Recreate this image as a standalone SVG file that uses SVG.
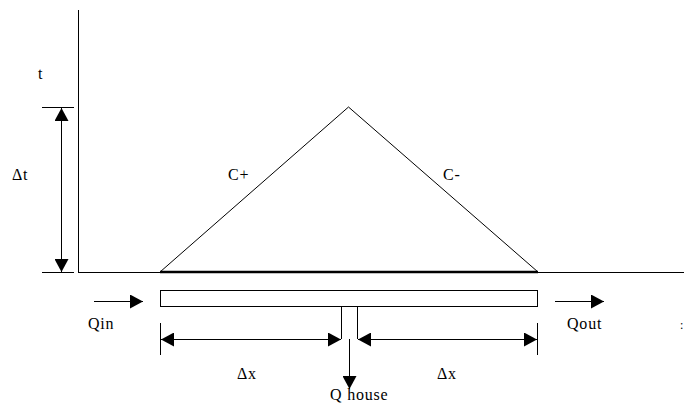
<svg xmlns="http://www.w3.org/2000/svg" width="684" height="406" viewBox="0 0 684 406">
<style>
.l{stroke:#000;stroke-width:1;fill:none}
.t{font-family:"Liberation Serif","Times New Roman",serif;font-size:16px;fill:#000;letter-spacing:0.8px}
</style>
<defs>
<marker id="ah" viewBox="0 0 13 14" refX="13" refY="7" markerWidth="13" markerHeight="14" markerUnits="userSpaceOnUse" orient="auto-start-reverse">
<path d="M0,0L13,7L0,14Z" fill="#000"/>
</marker>
</defs>
<rect width="684" height="406" fill="#fff"/>
<g id="axes">
<line class="l" x1="78.5" y1="10" x2="78.5" y2="272.5"/>
<line class="l" x1="78" y1="272.5" x2="684" y2="272.5"/>
<line x1="160" y1="272" x2="538" y2="272" stroke="#000" stroke-width="2.5"/>
</g>
<g id="triangle">
<polyline class="l" points="160,272 348.5,107 538,272"/>
</g>
<g id="pipe">
<rect class="l" x="160.5" y="290.5" width="377" height="16"/>
<line class="l" x1="341.5" y1="307" x2="341.5" y2="339"/>
<line class="l" x1="357.5" y1="307" x2="357.5" y2="339"/>
</g>
<g id="connectors">
<line class="l" x1="42" y1="107.5" x2="74" y2="107.5"/>
<line class="l" x1="42" y1="272.5" x2="74" y2="272.5"/>
<line class="l" x1="61.5" y1="108" x2="61.5" y2="272" marker-start="url(#ah)" marker-end="url(#ah)"/>
<line class="l" x1="94" y1="301.5" x2="143" y2="301.5" marker-end="url(#ah)"/>
<line class="l" x1="555" y1="301.5" x2="604" y2="301.5" marker-end="url(#ah)"/>
<line class="l" x1="160.5" y1="323" x2="160.5" y2="355"/>
<line class="l" x1="537.5" y1="323" x2="537.5" y2="355"/>
<line class="l" x1="161" y1="339.5" x2="341" y2="339.5" marker-start="url(#ah)" marker-end="url(#ah)"/>
<line class="l" x1="358" y1="339.5" x2="537" y2="339.5" marker-start="url(#ah)" marker-end="url(#ah)"/>
<line class="l" x1="349.5" y1="339" x2="349.5" y2="389" marker-end="url(#ah)"/>
</g>
<g id="labels">
<text class="t" x="38" y="79">t</text>
<text class="t" x="12" y="180">Δt</text>
<text class="t" x="228" y="180">C+</text>
<text class="t" x="443" y="180">C-</text>
<text class="t" x="88" y="329">Qin</text>
<text class="t" x="567" y="329">Qout</text>
<text class="t" x="237" y="379">Δx</text>
<text class="t" x="437" y="379">Δx</text>
<text class="t" x="330" y="400">Q house</text>
<text class="t" x="680" y="329" style="font-size:12px">:</text>
</g>
</svg>
